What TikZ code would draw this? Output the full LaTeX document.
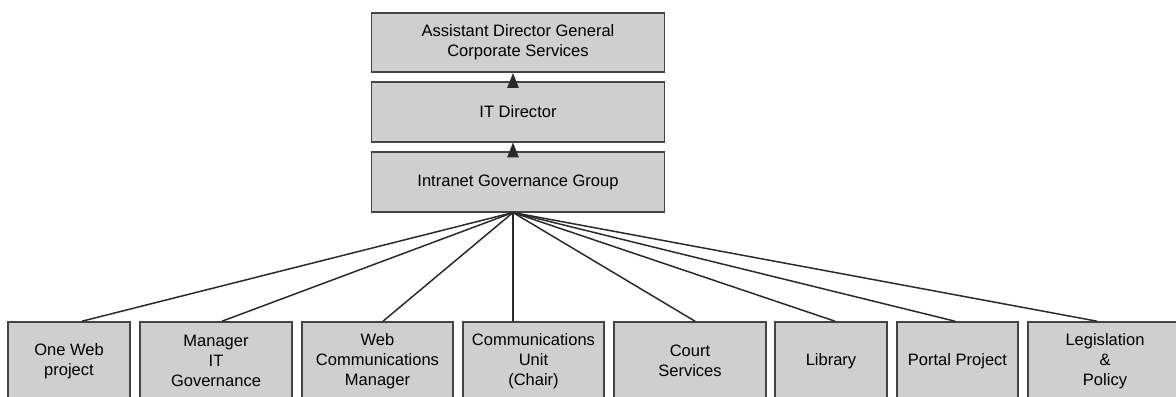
\documentclass[tikz,border=0pt]{standalone}
\usepackage{fontspec}
\setmainfont{Liberation Sans}
\usetikzlibrary{arrows.meta}
\definecolor{BoxGray}{HTML}{CFCFCF}
\definecolor{EdgeGray}{HTML}{444444}
\definecolor{LinkGray}{HTML}{2A2A2A}

\begin{document}
\begin{tikzpicture}[x=1cm,y=1cm,
    unitbox/.style={draw=EdgeGray,line width=0.9pt,fill=BoxGray,
          minimum height=1.56cm,align=center,inner sep=1pt,
          font=\fontsize{9.4}{11.4}\selectfont},
    headbox/.style={unitbox,minimum width=5.86cm,minimum height=1.19cm},
    link/.style={line width=0.85pt,color=LinkGray},
    uparrow/.style={link,-{Triangle[width=6.5pt,length=8.5pt]}}]
    \useasboundingbox (0,0) rectangle (23.52,7.94);

    % reporting line at the top
    \node[headbox] (adg) at (10.36,7.09) {Assistant Director General\\Corporate Services};
    \node[headbox] (itd) at (10.36,5.70) {IT Director};
    \node[headbox] (igg) at (10.36,4.30) {Intranet Governance Group};
    \draw[uparrow] ([xshift=-0.1cm,yshift=-0.1cm]igg.north) -- ([xshift=-0.1cm]itd.south);
    \draw[uparrow] ([xshift=-0.1cm,yshift=-0.1cm]itd.north) -- ([xshift=-0.1cm]adg.south);

    % member units along the bottom
    \node[unitbox,minimum width=2.44cm] (oneweb) at (1.38,0.72) {One Web\\project};
    \node[unitbox,minimum width=3.04cm] (itgov) at (4.32,0.72) {Manager\\IT\\Governance};
    \node[unitbox,minimum width=3.02cm] (webcomms) at (7.55,0.72) {Web\\Communications\\Manager};
    \node[unitbox,minimum width=2.82cm] (commsunit) at (10.67,0.72) {Communications\\Unit\\(Chair)};
    \node[unitbox,minimum width=3.04cm] (court) at (13.80,0.72) {Court\\Services};
    \node[unitbox,minimum width=2.24cm] (library) at (16.62,0.72) {Library};
    \node[unitbox,minimum width=2.42cm] (portal) at (19.15,0.72) {Portal Project};
    \node[unitbox,minimum width=3.08cm] (legislation) at (22.10,0.72) {Legislation\\\&\\Policy};

    \coordinate (hub) at ([xshift=-0.1cm]igg.south);
    \foreach \unit/\dx in {oneweb/0.26,itgov/0.12,webcomms/0.11,commsunit/-0.41,
                           court/0.1,library/0.08,portal/-0.05,legislation/-0.16}
      \draw[link] (hub) -- ([xshift=\dx cm]\unit.north);
  \end{tikzpicture}
\end{document}
